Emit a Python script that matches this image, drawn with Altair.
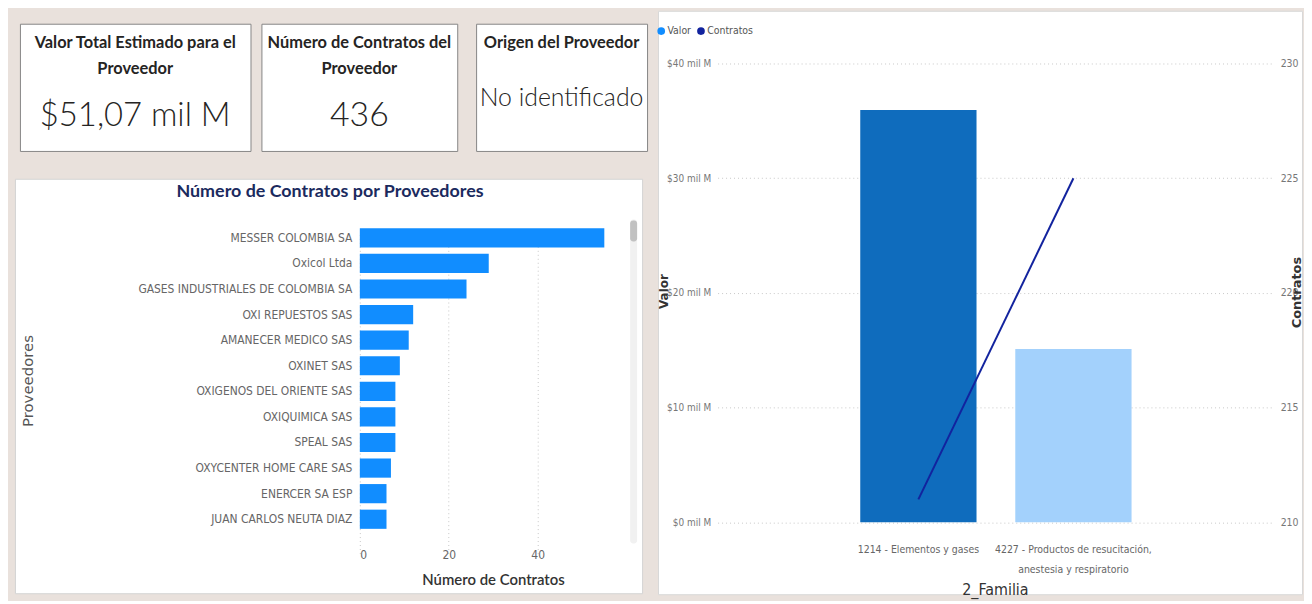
import altair as alt
import pandas as pd

# ---------------- data ----------------
card_titles = ["Valor Total Estimado para el\nProveedor", "Número de Contratos del\nProveedor", "Origen del Proveedor"]
card_values = ["$51,07 mil M", "436", "No identificado"]

chart_title = "Número de Contratos por Proveedores"
proveedores = [
    "MESSER COLOMBIA SA", "Oxicol Ltda", "GASES INDUSTRIALES DE COLOMBIA SA", "OXI REPUESTOS SAS",
    "AMANECER MEDICO SAS", "OXINET SAS", "OXIGENOS DEL ORIENTE SAS", "OXIQUIMICA SAS",
    "SPEAL SAS", "OXYCENTER HOME CARE SAS", "ENERCER SA ESP", "JUAN CARLOS NEUTA DIAZ",
]
contratos_prov = [55, 29, 24, 12, 11, 9, 8, 8, 8, 7, 6, 6]
prov_ticks = [0, 20, 40]

familias = ["1214 - Elementos y gases", "4227 - Productos de resucitación, anestesia y respiratorio"]
valor_mil_m = [35.95, 15.12]
contratos_fam = [211, 225]
valor_ticks = [0, 10, 20, 30, 40]
contratos_ticks = [210, 215, 220, 225, 230]
series = ["Valor", "Contratos"]

# ---------------- styles ----------------
BG = "#E9E1DC"
NARROW = "Liberation Sans Narrow, DejaVu Sans Condensed, Roboto"
UI = "Lato, Open Sans, sans-serif"
WIDE = "DejaVu Sans, Open Sans"


def spacer(w, h):
    return alt.Chart(alt.Data(values=[{}])).mark_rect(opacity=0).encode(
        x=alt.value(0), x2=alt.value(w), y=alt.value(0), y2=alt.value(h)
    ).properties(width=w, height=h, view=alt.ViewBackground(stroke="transparent"))


def card(i, w, h, title_y, value_y, value_size):
    d = pd.DataFrame({"titulo": [card_titles[i]], "valor": [card_values[i]]})
    base = alt.Chart(d)
    t = base.mark_text(font=UI, fontSize=16.5, fontWeight="bold", color="#252423",
                       lineBreak="\n", lineHeight=27, baseline="middle", align="center").encode(
        text="titulo:N", x=alt.value(w / 2), y=alt.value(title_y))
    v = base.mark_text(font=UI, fontSize=value_size, fontWeight=300, color="#252423",
                       baseline="middle", align="center").encode(
        text="valor:N", x=alt.value(w / 2), y=alt.value(value_y))
    return alt.layer(t, v).properties(
        width=w, height=h,
        view=alt.ViewBackground(fill="white", stroke="#858585", strokeWidth=1))


H_CARD = 128
cards_row = alt.hconcat(
    spacer(3, H_CARD),
    card(0, 232, H_CARD, 19, 93, 33),
    spacer(7, H_CARD),
    card(1, 197, H_CARD, 19, 93, 34),
    spacer(15, H_CARD),
    card(2, 172, H_CARD, 19, 75, 25),
    spacing=0,
)

# ---------------- bar chart box ----------------
W_BOX, H_BOX = 631, 417
prov_df = pd.DataFrame({"Proveedores": proveedores, "Contratos": contratos_prov})

bars = alt.Chart(prov_df).mark_bar(color="#118DFF").encode(
    x=alt.X("Contratos:Q",
            scale=alt.Scale(domain=[0, 55], range=[347, 593], nice=False),
            axis=alt.Axis(values=prov_ticks, title="Número de Contratos", grid=True,
                          gridColor="#c8c8c8", gridDash=[1, 3], domain=False, ticks=False,
                          offset=-55, labelPadding=11, labelFont=NARROW, labelFontSize=12,
                          labelColor="#666666", titleFont=UI, titleFontSize=15,
                          titleFontWeight=600, titleColor="#333333", titleX=481, titleY=41,
                          titleBaseline="middle", titleAlign="center")),
    y=alt.Y("Proveedores:N", sort=proveedores,
            scale=alt.Scale(range=[40, 362], paddingInner=0.25, paddingOuter=0.38),
            axis=alt.Axis(title="Proveedores", domain=False, ticks=False, offset=-347,
                          labelPadding=8, labelFont=NARROW, labelFontSize=12,
                          labelColor="#666666", labelLimit=0, titleFont=WIDE,
                          titleFontSize=15, titleFontWeight="normal", titleColor="#555555",
                          titleX=-334, titleY=203, titleAngle=270, titleAlign="center",
                          titleBaseline="middle")),
)

title_mark = alt.Chart(pd.DataFrame({"t": [chart_title]})).mark_text(
    font=UI, fontSize=18, fontWeight="bold", color="#1B2A5E", align="center", baseline="middle"
).encode(text="t:N", x=alt.value(317), y=alt.value(13))

scroll_track = alt.Chart(alt.Data(values=[{}])).mark_rect(color="#F1F1F1", cornerRadius=3).encode(
    x=alt.value(619), x2=alt.value(626), y=alt.value(41), y2=alt.value(367))
scroll_thumb = alt.Chart(alt.Data(values=[{}])).mark_rect(color="#C1C1C1", cornerRadius=3).encode(
    x=alt.value(619), x2=alt.value(626), y=alt.value(42), y2=alt.value(63))

box = alt.layer(scroll_track, scroll_thumb, bars, title_mark).properties(
    width=W_BOX, height=H_BOX,
    view=alt.ViewBackground(fill="white", stroke="#d4d4d4", strokeWidth=1))

left = alt.vconcat(spacer(W_BOX, 11), cards_row, spacer(W_BOX, 24), box, spacing=0)

# ---------------- right panel ----------------
W_R, H_R = 648, 587
fam_df = pd.DataFrame({"Familia": familias, "Valor": valor_mil_m, "Contratos": contratos_fam})

label_expr = ("indexof(datum.label, ', ') > 0 ? "
              "[slice(datum.label, 0, indexof(datum.label, ', ') + 1), "
              "slice(datum.label, indexof(datum.label, ', ') + 2)] : datum.label")

x_fam = alt.X("Familia:N", sort=familias,
              scale=alt.Scale(range=[60, 620], paddingInner=0.25, paddingOuter=0.92),
              axis=alt.Axis(title="2_Familia", labelExpr=label_expr, domain=False, ticks=False,
                            offset=-72.3, labelPadding=22, labelLineHeight=20, labelAngle=0,
                            labelFont=NARROW, labelFontSize=10.5, labelColor="#666666",
                            labelLimit=0, labelOverlap=False, titleFont=NARROW,
                            titleFontSize=16, titleFontWeight="normal", titleColor="#333333",
                            titleX=339, titleY=68, titleBaseline="middle", titleAlign="center"))

bars_r = alt.Chart(fam_df).mark_bar().encode(
    x=x_fam,
    y=alt.Y("Valor:Q", scale=alt.Scale(domain=[0, 40], range=[514.7, 53], nice=False),
            axis=alt.Axis(values=valor_ticks, labelExpr="'$' + datum.value + ' mil M'",
                          grid=True, gridColor="#c8c8c8", gridDash=[1, 3], domain=False,
                          ticks=False, offset=-60, labelPadding=7, labelFont=NARROW,
                          labelFontSize=10, labelColor="#777777", title="Valor",
                          titleFont=WIDE, titleFontSize=12, titleFontWeight="bold",
                          titleColor="#333333", titleX=-54, titleY=282, titleAngle=270,
                          titleAlign="center", titleBaseline="middle")),
    fill=alt.Fill("Familia:N", sort=familias,
                  scale=alt.Scale(domain=familias, range=["#0F6CBD", "#A3D1FC"]), legend=None),
)

line_r = alt.Chart(fam_df).mark_line(color="#12239E", strokeWidth=2).encode(
    x=alt.X("Familia:N", sort=familias),
    y=alt.Y("Contratos:Q", scale=alt.Scale(domain=[210, 230], range=[514.7, 53], nice=False, zero=False),
            axis=alt.Axis(orient="right", values=contratos_ticks, grid=False, domain=False,
                          ticks=False, offset=-28, labelPadding=6, labelFont=NARROW,
                          labelFontSize=10.5, labelColor="#777777", title="Contratos",
                          titleFont=WIDE, titleFontSize=13, titleFontWeight="bold",
                          titleColor="#333333", titleX=22, titleY=283, titleAngle=270,
                          titleAlign="center", titleBaseline="middle")),
)

legend_layer = alt.Chart(pd.DataFrame({"serie": series})).mark_point(filled=True, opacity=0, size=0).encode(
    x=alt.value(1), y=alt.value(1),
    color=alt.Color("serie:N", sort=series,
                    scale=alt.Scale(domain=series, range=["#118DFF", "#12239E"]),
                    legend=alt.Legend(orient="none", legendX=645, legendY=15, direction="horizontal",
                                      title=None, symbolType="circle", symbolSize=60,
                                      symbolOpacity=1, symbolStrokeWidth=0, labelFont=NARROW,
                                      labelFontSize=10.5, labelColor="#555555", columnPadding=4,
                                      labelOffset=1)))

right = alt.layer(bars_r, line_r, legend_layer).resolve_scale(y="independent").properties(
    width=W_R, height=H_R,
    view=alt.ViewBackground(fill="white", stroke="#d8d8d8", strokeWidth=1))

chart = alt.hconcat(left, right, spacing=9).properties(
    background=BG, padding={"left": 6, "top": 0, "right": 0, "bottom": 0}
).configure_view(stroke="transparent")

chart.save("out.html", embed_options={"renderer": "svg", "actions": False})
